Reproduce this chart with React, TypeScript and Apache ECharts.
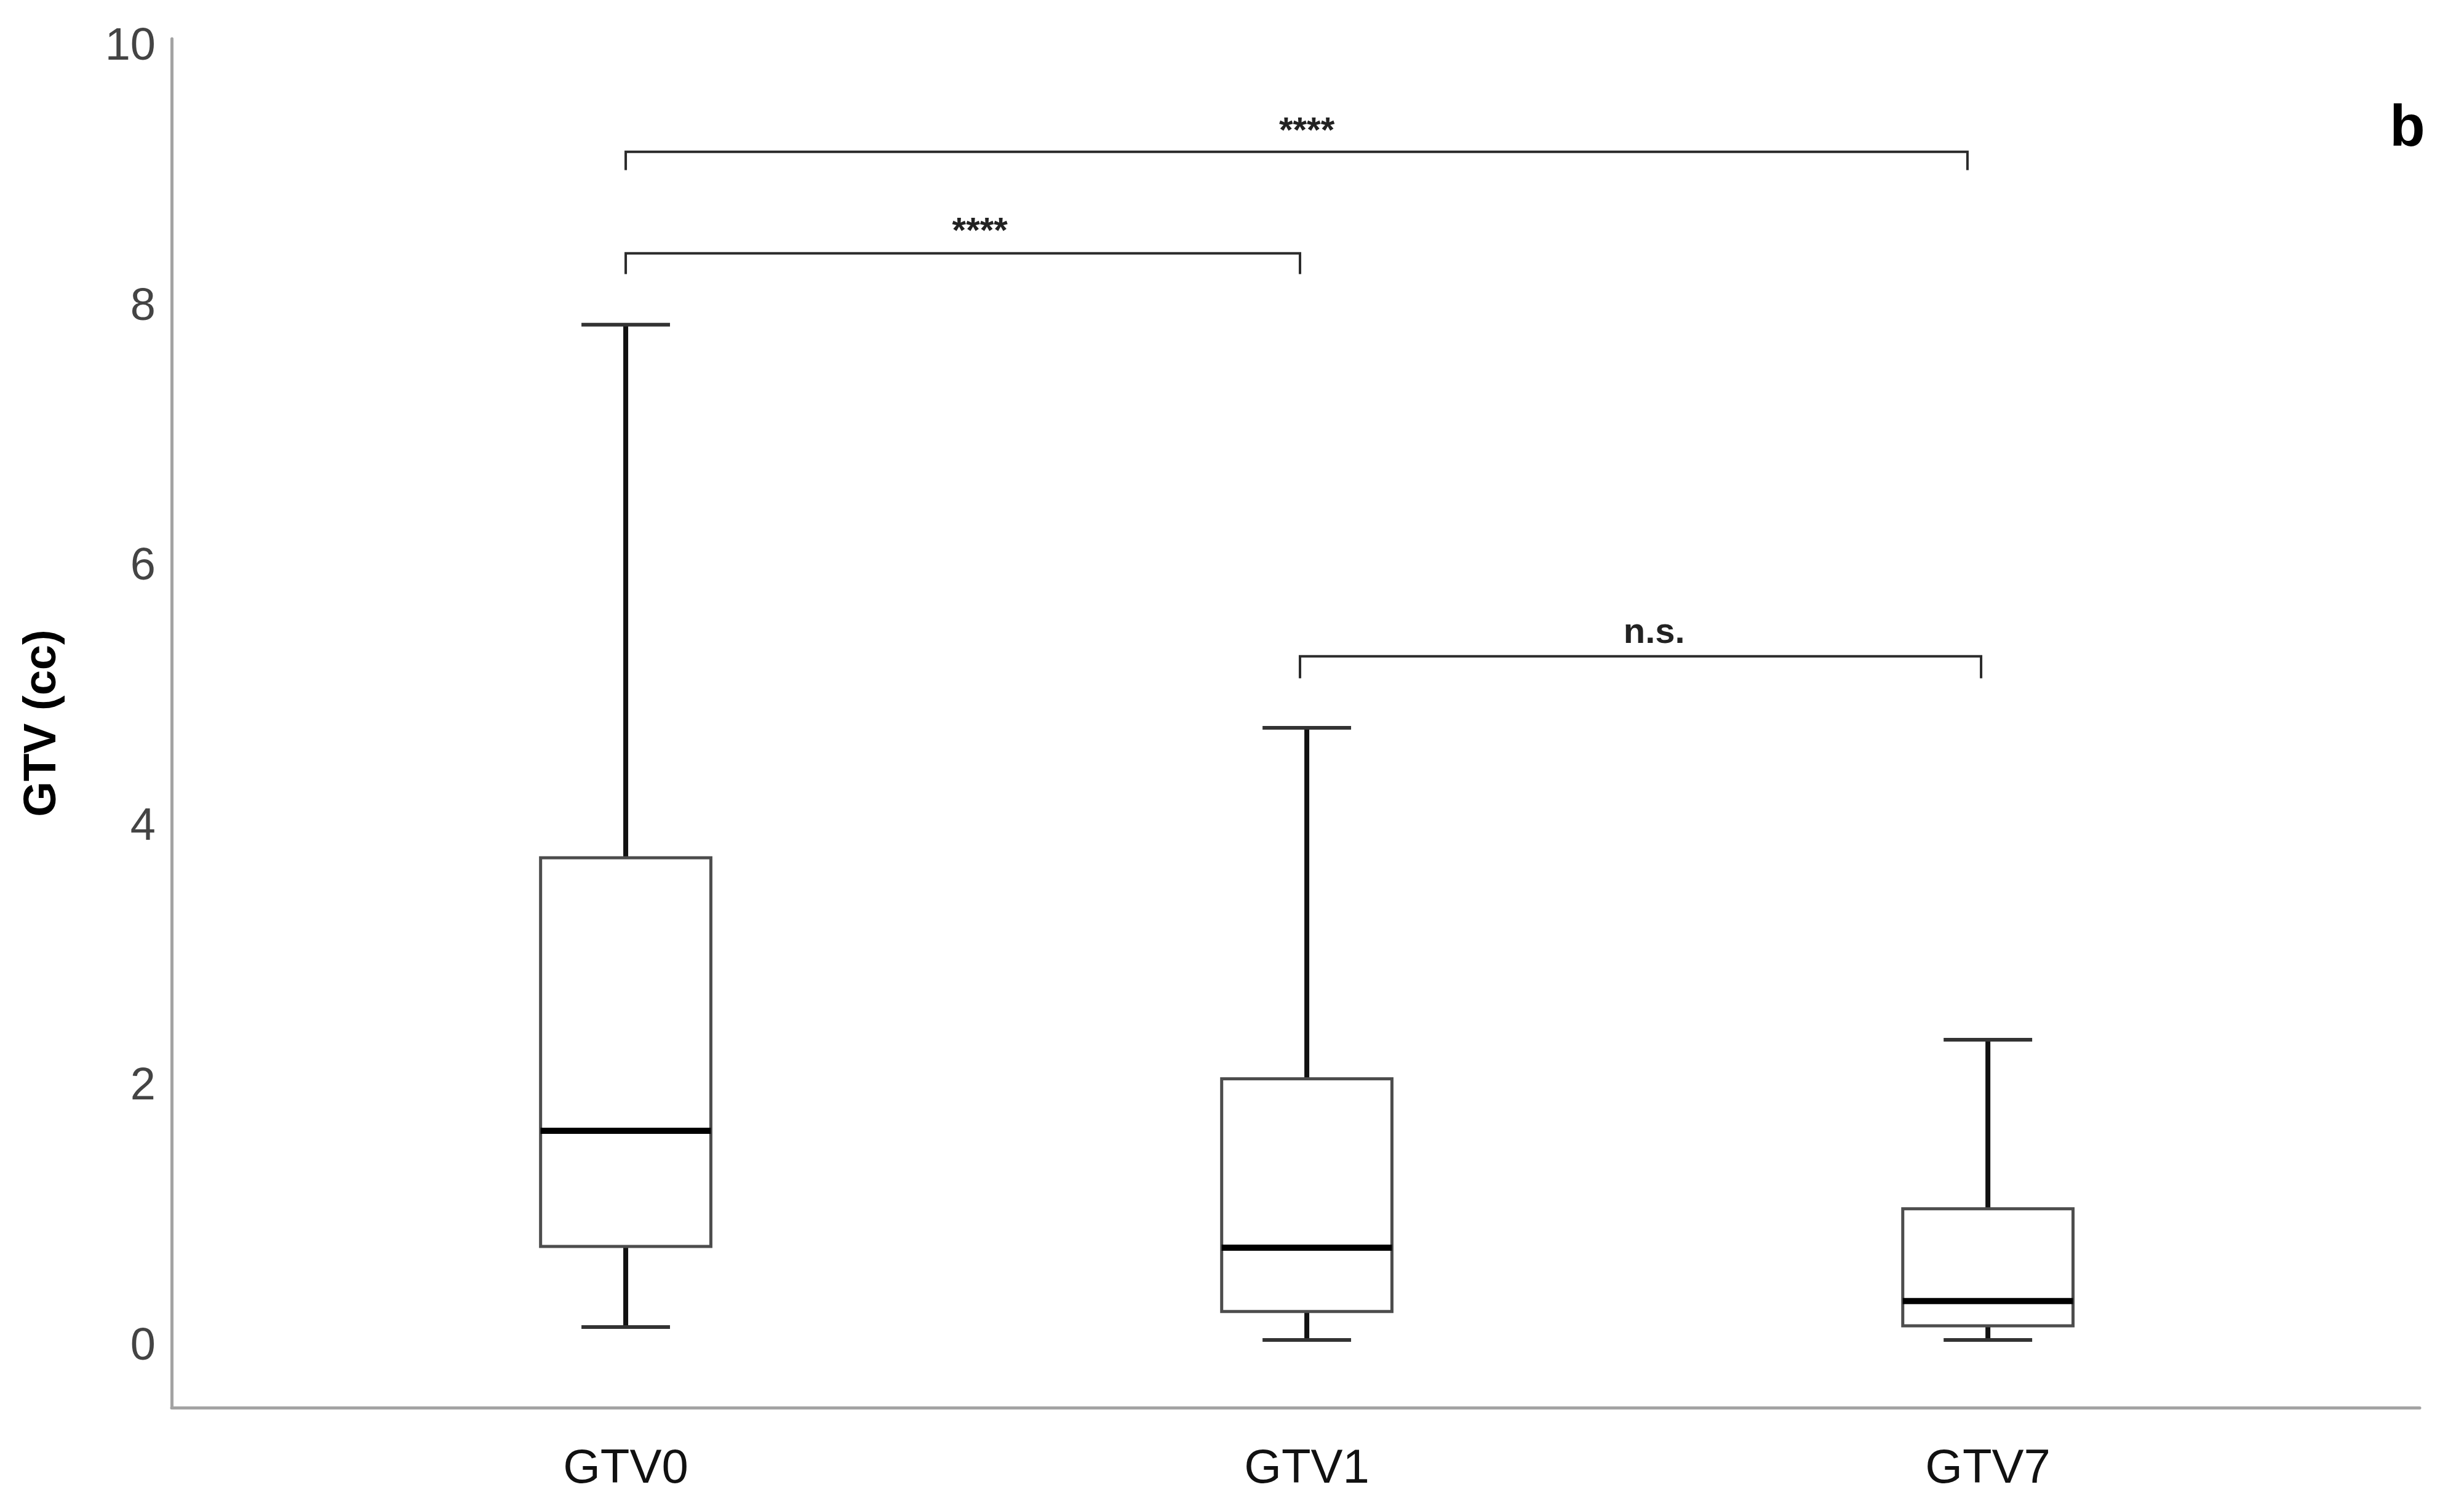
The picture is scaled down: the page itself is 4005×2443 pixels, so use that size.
import React, { useEffect, useRef } from "react";
import * as echarts from "echarts";

// ---- data ----
const CATEGORIES = ["GTV0", "GTV1", "GTV7"];
const WHISKER_LOW = [0.13, 0.03, 0.03];
const Q1 = [0.75, 0.25, 0.14];
const MEDIAN = [1.64, 0.74, 0.33];
const Q3 = [3.74, 2.04, 1.04];
const WHISKER_HIGH = [7.84, 4.74, 2.34];

const Y_TICKS = [0, 2, 4, 6, 8, 10];

// significance brackets (x in category index units, y in cc)
const BRACKET_FROM = [0, 0, 0.99];
const BRACKET_TO = [1.97, 0.99, 1.99];
const BRACKET_Y = [9.17, 8.39, 5.29];
const BRACKET_TIP = [9.03, 8.23, 5.12];
const BRACKET_LABEL = ["****", "****", "n.s."];
const BRACKET_LABEL_X = [1.0, 0.52, 1.51];
const BRACKET_LABEL_Y = [9.34, 8.57, 5.49];

const FONT = "'Liberation Sans', Arial, Helvetica, sans-serif";

export default function App() {
  const ref = useRef<HTMLDivElement>(null);

  useEffect(() => {
    if (!ref.current) return;
    const chart = echarts.init(ref.current, undefined, { renderer: "svg" });

    const boxData = CATEGORIES.map((_, i) => [
      i,
      WHISKER_LOW[i],
      Q1[i],
      MEDIAN[i],
      Q3[i],
      WHISKER_HIGH[i],
    ]);

    const bracketData = BRACKET_LABEL.map((_, i) => [
      BRACKET_FROM[i],
      BRACKET_TO[i],
      BRACKET_Y[i],
      BRACKET_TIP[i],
      BRACKET_LABEL_X[i],
      BRACKET_LABEL_Y[i],
      i,
    ]);

    const BOX_WIDTH = 0.25;
    const CAP_WIDTH = 0.13;

    const option: any = {
      animation: false,
      backgroundColor: "#ffffff",
      grid: { left: 279, right: 72, top: 63, bottom: 155, containLabel: false },
      xAxis: {
        type: "value",
        min: -0.6667,
        max: 2.634,
        axisLine: { onZero: false, lineStyle: { color: "#a3a3a3", width: 5 } },
        axisTick: { show: false },
        splitLine: { show: false },
        axisLabel: {
          customValues: [0, 1, 2],
          formatter: (v: number) => CATEGORIES[Math.round(v)] ?? "",
          color: "#111111",
          fontSize: 78,
          fontFamily: FONT,
          margin: 56,
        },
      },
      yAxis: {
        type: "value",
        min: -0.49,
        max: 10.04,
        name: "GTV (cc)",
        nameLocation: "middle",
        nameGap: 178,
        nameTextStyle: {
          color: "#000000",
          fontSize: 74,
          fontWeight: "bold",
          fontFamily: FONT,
        },
        axisLine: { onZero: false, lineStyle: { color: "#a3a3a3", width: 5 } },
        axisTick: { show: false },
        splitLine: { show: false },
        axisLabel: {
          customValues: Y_TICKS,
          color: "#444444",
          fontSize: 74,
          fontFamily: FONT,
          margin: 26,
        },
      },
      graphic: [
        {
          type: "text",
          x: 3913,
          y: 204,
          style: {
            text: "b",
            align: "center",
            verticalAlign: "middle",
            fill: "#000000",
            fontSize: 94,
            fontWeight: "bold",
            fontFamily: FONT,
          },
        },
      ],
      series: [
        {
          type: "custom",
          name: "GTV",
          clip: false,
          data: boxData,
          encode: { x: 0, y: [1, 2, 3, 4, 5] },
          renderItem: (params: any, api: any) => {
            const x = api.value(0);
            const lo = api.coord([x, api.value(1)]);
            const q1 = api.coord([x, api.value(2)]);
            const med = api.coord([x, api.value(3)]);
            const q3 = api.coord([x, api.value(4)]);
            const hi = api.coord([x, api.value(5)]);
            const bw = api.size([BOX_WIDTH, 0])[0];
            const cw = api.size([CAP_WIDTH, 0])[0];
            const cx = lo[0];
            const whisker = { stroke: "#111111", lineWidth: 8 };
            const cap = { stroke: "#333333", lineWidth: 6 };
            return {
              type: "group",
              children: [
                {
                  type: "line",
                  shape: { x1: cx, y1: q3[1], x2: cx, y2: hi[1] },
                  style: whisker,
                },
                {
                  type: "line",
                  shape: { x1: cx, y1: q1[1], x2: cx, y2: lo[1] },
                  style: whisker,
                },
                {
                  type: "line",
                  shape: { x1: cx - cw / 2, y1: hi[1], x2: cx + cw / 2, y2: hi[1] },
                  style: cap,
                },
                {
                  type: "line",
                  shape: { x1: cx - cw / 2, y1: lo[1], x2: cx + cw / 2, y2: lo[1] },
                  style: cap,
                },
                {
                  type: "rect",
                  shape: { x: cx - bw / 2, y: q3[1], width: bw, height: q1[1] - q3[1] },
                  style: { fill: "#ffffff", stroke: "#4d4d4d", lineWidth: 5 },
                },
                {
                  type: "line",
                  shape: { x1: cx - bw / 2, y1: med[1], x2: cx + bw / 2, y2: med[1] },
                  style: { stroke: "#000000", lineWidth: 10 },
                },
              ],
            };
          },
        },
        {
          type: "custom",
          name: "significance",
          clip: false,
          data: bracketData,
          encode: { x: [0, 1], y: [2, 3] },
          renderItem: (params: any, api: any) => {
            const x1 = api.value(0);
            const x2 = api.value(1);
            const yTop = api.value(2);
            const yTip = api.value(3);
            const a = api.coord([x1, yTop]);
            const b = api.coord([x2, yTop]);
            const aTip = api.coord([x1, yTip]);
            const bTip = api.coord([x2, yTip]);
            const lab = api.coord([api.value(4), api.value(5)]);
            const idx = api.value(6);
            const st = { stroke: "#2b2b2b", lineWidth: 4, fill: "none" };
            return {
              type: "group",
              children: [
                {
                  type: "polyline",
                  shape: {
                    points: [
                      [aTip[0], aTip[1]],
                      [a[0], a[1]],
                      [b[0], b[1]],
                      [bTip[0], bTip[1]],
                    ],
                  },
                  style: st,
                },
                {
                  type: "text",
                  x: lab[0],
                  y: lab[1],
                  style: {
                    text: BRACKET_LABEL[idx],
                    align: "center",
                    verticalAlign: "middle",
                    fill: "#222222",
                    fontSize: 58,
                    fontWeight: "bold",
                    fontFamily: FONT,
                  },
                },
              ],
            };
          },
        },
      ],
    };

    chart.setOption(option);
    return () => chart.dispose();
  }, []);

  return (
    <div
      ref={ref}
      style={{ position: "fixed", left: 0, top: 0, width: 4005, height: 2443, background: "#fff" }}
    />
  );
}
